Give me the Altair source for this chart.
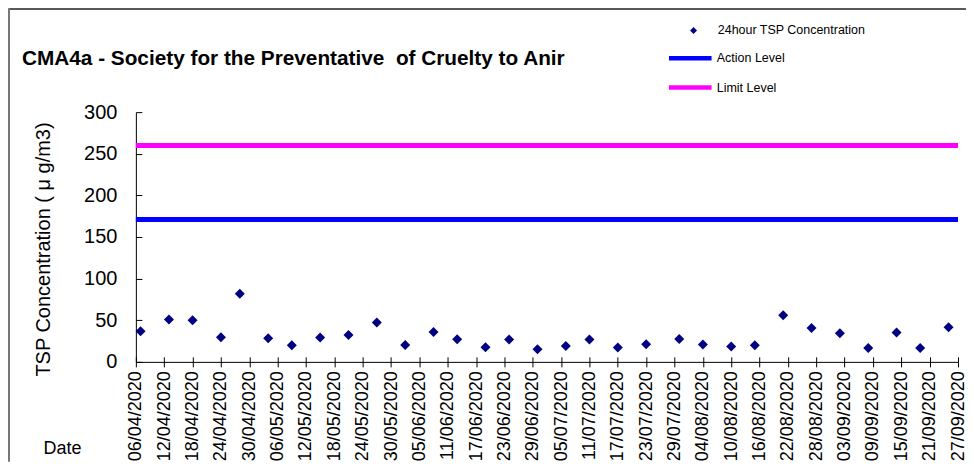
import altair as alt
import pandas as pd

# ---- data ----
dates = ["07/04/2020", "13/04/2020", "18/04/2020", "24/04/2020", "28/04/2020",
         "04/05/2020", "09/05/2020", "15/05/2020", "21/05/2020", "27/05/2020",
         "02/06/2020", "08/06/2020", "13/06/2020", "19/06/2020", "24/06/2020",
         "30/06/2020", "06/07/2020", "11/07/2020", "17/07/2020", "23/07/2020",
         "30/07/2020", "04/08/2020", "10/08/2020", "15/08/2020", "21/08/2020",
         "27/08/2020", "02/09/2020", "08/09/2020", "14/09/2020", "19/09/2020",
         "25/09/2020"]
tsp = [36.8, 50.8, 50.0, 29.5, 81.7,
       28.4, 20.0, 29.2, 32.4, 47.2,
       20.4, 36.0, 27.2, 17.5, 26.8,
       15.1, 19.2, 26.8, 17.2, 21.1,
       27.6, 20.8, 18.4, 20.0, 56.0,
       40.8, 34.3, 16.8, 35.2, 16.8,
       41.6]
series_name = "24hour TSP Concentration"
level_names = ["Action Level", "Limit Level"]
level_values = [171, 260]
tick_labels = ["06/04/2020", "12/04/2020", "18/04/2020", "24/04/2020", "30/04/2020",
               "06/05/2020", "12/05/2020", "18/05/2020", "24/05/2020", "30/05/2020",
               "05/06/2020", "11/06/2020", "17/06/2020", "23/06/2020", "29/06/2020",
               "05/07/2020", "11/07/2020", "17/07/2020", "23/07/2020", "29/07/2020",
               "04/08/2020", "10/08/2020", "16/08/2020", "22/08/2020", "28/08/2020",
               "03/09/2020", "09/09/2020", "15/09/2020", "21/09/2020", "27/09/2020"]
y_ticks = [0, 50, 100, 150, 200, 250, 300]
title_text = "CMA4a - Society for the Preventative\u00a0 of Cruelty to Anir"
y_title = "TSP Concentration ( \u03bc g/m3)"
x_title = "Date"


def to_ms(strings):
    s = pd.to_datetime(pd.Series(strings), format="%d/%m/%Y")
    return [int(v) for v in (s - pd.Timestamp("1970-01-01")) // pd.Timedelta("1ms")]


tick_ms = to_ms(tick_labels)
df = pd.DataFrame({"date": to_ms(dates), "value": tsp, "series": series_name})
df_levels = pd.DataFrame({"name": level_names, "level": level_values})
df_title = pd.DataFrame({"t": [title_text]})

FONT = "Liberation Sans"
W, H = 823, 250
PAD = {"left": 128, "top": 104, "right": 8, "bottom": 100}
x_scale = alt.Scale(type="utc", domain=[tick_ms[0], tick_ms[-1]], nice=False)
y_scale = alt.Scale(domain=[0, 300], nice=False)

points = alt.Chart(df).mark_point(shape="diamond", filled=True, size=100, opacity=1).encode(
    x=alt.X("date:T", scale=x_scale,
            axis=alt.Axis(orient="bottom", values=tick_ms, format="%d/%m/%Y",
                          labelAngle=-90, labelFontSize=18, labelPadding=4, tickSize=5,
                          title=x_title, titleX=-93, titleY=92, titleAngle=0,
                          titleAlign="left", titleBaseline="alphabetic",
                          titleFontSize=18, labelOverlap=False)),
    y=alt.Y("value:Q", scale=y_scale,
            axis=alt.Axis(orient="left", values=y_ticks, labelFontSize=20, tickSize=0,
                          labelPadding=19, title=y_title, titleFontSize=20,
                          titleX=-86, titleY=137, titleAngle=-90, titleAlign="center",
                          titleBaseline="alphabetic")),
    color=alt.Color("series:N",
                    scale=alt.Scale(domain=[series_name], range=["#000080"]),
                    legend=alt.Legend(title=None, orient="none", legendX=552, legendY=-88,
                                      symbolType="diamond", symbolSize=49, labelOffset=18,
                                      labelFontSize=12.5, padding=0)),
)

# inner half of the x-axis tick marks (ticks cross the axis in the reference)
inner_x_ticks = alt.Chart(df).mark_point(opacity=0).encode(
    x=alt.X("date:T", scale=x_scale,
            axis=alt.Axis(orient="bottom", offset=-5, tickSize=5, domain=False,
                          labels=False, title=None, values=tick_ms)))

rules = alt.Chart(df_levels).mark_rule(strokeWidth=5).encode(
    y=alt.Y("level:Q", scale=y_scale,
            axis=alt.Axis(orient="left", offset=-6, tickSize=6, domain=False, labels=False,
                          title=None, values=y_ticks)),
    color=alt.Color("name:N",
                    scale=alt.Scale(domain=level_names, range=["#0000FF", "#FF00FF"]),
                    legend=alt.Legend(title=None, orient="none", legendX=531, legendY=-60,
                                      symbolType="stroke", symbolSize=1815, symbolStrokeWidth=4.5,
                                      labelOffset=2.5, labelFontSize=12.5, padding=0,
                                      clipHeight=12, rowPadding=16.4)),
)

title = alt.Chart(df_title).mark_text(
    align="left", baseline="alphabetic", fontSize=20.8, fontWeight="bold", font=FONT,
    color="black"
).encode(text="t:N", x=alt.value(-114), y=alt.value(-47))

# chart-area frame (top and left edges, as in the reference)
frame_top = alt.Chart(df_title).mark_rule(color="#222222", strokeWidth=1.5).encode(
    x=alt.value(-PAD["left"] + 0.75), x2=alt.value(W + PAD["right"]),
    y=alt.value(-PAD["top"] + 0.75))
frame_left = alt.Chart(df_title).mark_rule(color="#777777", strokeWidth=2).encode(
    x=alt.value(-PAD["left"] + 1), y=alt.value(-PAD["top"]),
    y2=alt.value(H + PAD["bottom"]))

chart = alt.layer(frame_top, frame_left, rules, inner_x_ticks, points, title).resolve_scale(
    color="independent").resolve_axis(x="independent", y="independent").properties(
    width=W, height=H,
    padding=PAD,
    autosize=alt.AutoSizeParams(type="none"),
).configure(font=FONT).configure_view(stroke=None).configure_axis(
    grid=False, domainColor="black", tickColor="black", labelColor="black",
    titleColor="black", titleFontWeight="normal", labelFont=FONT, titleFont=FONT
).configure_legend(labelFont=FONT, labelColor="black")

chart.save("out.html", embed_options={"renderer": "svg", "actions": False})
